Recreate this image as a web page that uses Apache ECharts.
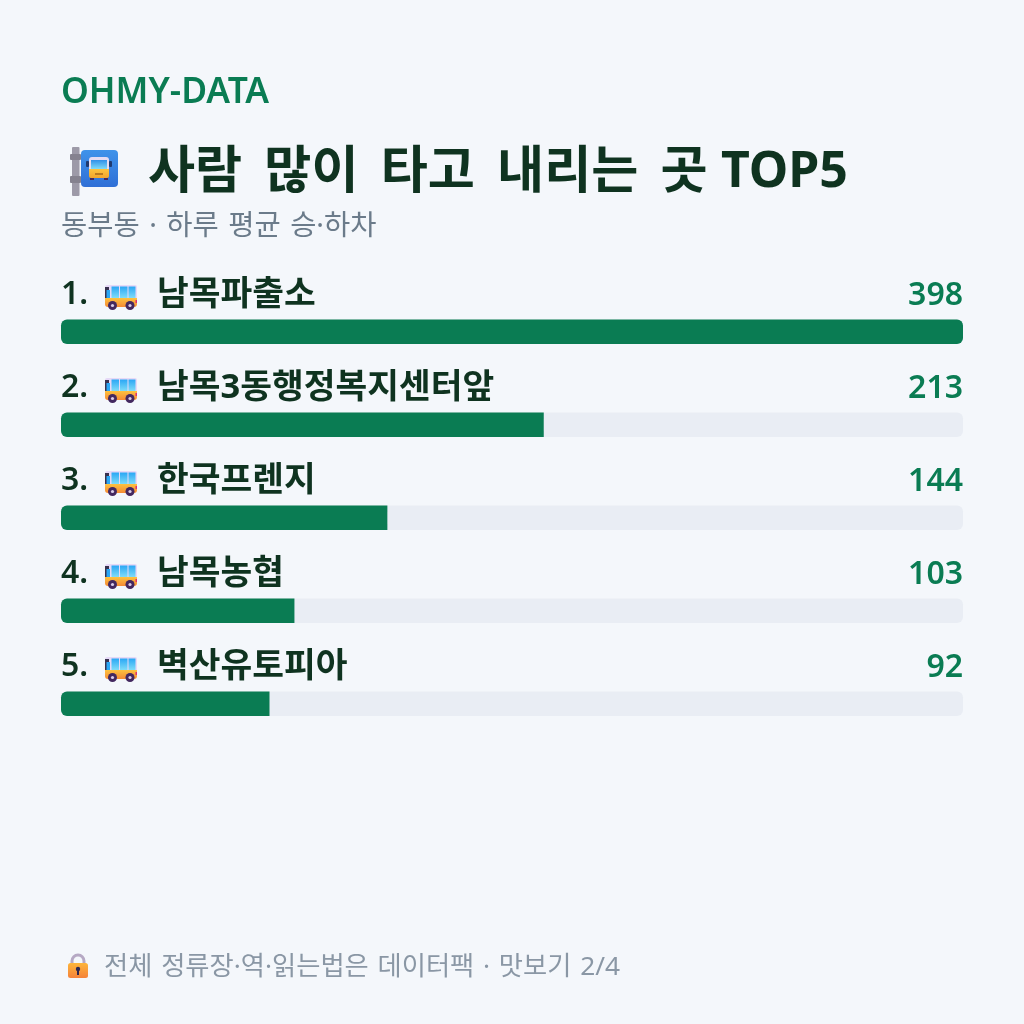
<!DOCTYPE html>
<html lang="ko">
<head>
<meta charset="utf-8">
<title>사람 많이 타고 내리는 곳 TOP5</title>
<style>html,body{margin:0;padding:0;background:#f4f7fb}#chart{width:1024px;height:1024px}</style>
<script src="https://cdn.jsdelivr.net/npm/echarts@6/dist/echarts.min.js"></script>
</head>
<body>
<div id="chart"></div>
<script>
// Boarding and alighting counts per stop
const stops = ['남목파출소', '남목3동행정복지센터앞', '한국프렌지', '남목농협', '벽산유토피아'];
const riders = [398, 213, 144, 103, 92];
const axisMax = 398;

const FONT = '"Noto Sans", "Noto Sans CJK KR", sans-serif';
const GREEN = '#0a7c53';
const INK = '#0f3320';
const ROW_PITCH = 93;

// Wider word gaps for the Korean running text
const wide = s => s.replace(/ /g, '\u2004\u200a');
const medium = s => s.replace(/ /g, '\u2004');

const grad = (a, b) => new echarts.graphic.LinearGradient(0, 0, 0, 1, [
  { offset: 0, color: a }, { offset: 1, color: b }
]);
const rect = (x, y, width, height, r, fill) => ({ type: 'rect', shape: { x, y, width, height, r }, style: { fill } });
const disc = (cx, cy, r, fill) => ({ type: 'circle', shape: { cx, cy, r }, style: { fill } });

// Side-on bus icon placed ahead of each stop name
function busIcon(dy) {
  return {
    type: 'group', x: 105, y: 285 + dy, silent: true,
    children: [
      rect(0, 0, 32, 14, [2, 2, 0, 0], '#e6d9f7'),
      rect(0, 13, 32, 9, [0, 0, 3, 3], grad('#fdc23f', '#f58a35')),
      rect(0, 2, 4, 11, 0, '#38324f'),
      rect(1.5, 5, 3.5, 8, 0, '#2aa7f5'),
      rect(6.5, 1.5, 7.5, 11.5, 0, grad('#2aa7f5', '#7fdcf8')),
      rect(15, 1.5, 7.5, 11.5, 0, grad('#2aa7f5', '#7fdcf8')),
      rect(23.5, 1.5, 7, 11.5, 0, grad('#2aa7f5', '#7fdcf8')),
      rect(30.5, 15, 1.5, 3, 0, '#e0306f'),
      disc(7.5, 20.5, 4.5, '#43285f'), disc(7.5, 20.5, 1.6, '#d9cce8'),
      disc(25, 20.5, 4.5, '#43285f'), disc(25, 20.5, 1.6, '#d9cce8')
    ]
  };
}

// Bus stop sign next to the heading
const stopSign = {
  type: 'group', x: 70, y: 147, silent: true,
  children: [
    rect(2, 0, 7.5, 49, 1, '#9d9aa8'),
    rect(0, 7, 11, 6, 1, '#85828f'),
    rect(0, 29, 11, 7, 1, '#85828f'),
    rect(11, 3, 37, 37, 4, grad('#3f93ea', '#2f6fd6')),
    rect(16, 14, 3, 6, 1, '#1f3a70'),
    rect(39, 14, 3, 6, 1, '#1f3a70'),
    rect(19, 10, 20, 13, [3, 3, 0, 0], '#e4dcf2'),
    rect(21, 13, 16, 9, 0, grad('#2f8fe8', '#7fdcf8')),
    rect(19, 22, 20, 9, [0, 0, 2, 2], grad('#fbc33f', '#f2a52d')),
    rect(25, 26, 8, 2, 0, '#b97a1f'),
    rect(20, 31, 4, 2, 0, '#43285f'),
    rect(34, 31, 4, 2, 0, '#43285f')
  ]
};

// Padlock ahead of the footer line
const padlock = {
  type: 'group', x: 68, y: 953, silent: true,
  children: [
    { type: 'arc', shape: { cx: 10, cy: 8, r: 6, startAngle: Math.PI, endAngle: 0 }, style: { stroke: '#b6a9c4', lineWidth: 3, fill: 'none' } },
    rect(2.5, 8, 3, 3, 0, '#b6a9c4'),
    rect(14.5, 8, 3, 3, 0, '#b6a9c4'),
    rect(0, 10, 20, 15, 2.5, grad('#fdb53a', '#f5823a')),
    disc(10, 16, 2.2, '#2b2550'),
    rect(9, 16, 2, 6, 0, '#2b2550')
  ]
};

const heading = (text, left, top, size, weight, color) => ({
  text, left, top, padding: 0,
  textStyle: { fontFamily: FONT, fontSize: size, fontWeight: weight, color, lineHeight: size * 1.2 }
});

// Main heading: Hangul set a little larger than the Latin tail
const mainHeading = {
  text: `{h|${wide('사람 많이 타고 내리는 곳')} }{l|TOP5}`,
  left: 148, top: 143, padding: 0,
  textStyle: {
    rich: {
      h: { fontFamily: FONT, fontSize: 51.2, fontWeight: 700, color: INK, lineHeight: 60 },
      l: { fontFamily: FONT, fontSize: 50, fontWeight: 700, color: INK, lineHeight: 60 }
    }
  }
};

const chart = echarts.init(document.getElementById('chart'));
chart.setOption({
  backgroundColor: '#f4f7fb',
  animation: false,
  title: [
    heading('OHMY-DATA', 61, 72, 35.4, 600, GREEN),
    mainHeading,
    heading(medium('동부동 · 하루 평균 승·하차'), 61, 210, 28.5, 400, '#6b7b8a'),
    heading(medium('전체 정류장·역·읽는법은 데이터팩 · 맛보기 2/4'), 104, 952, 26.3, 400, '#8a97a5')
  ],
  grid: { left: 61, top: 285.3, width: 902, height: ROW_PITCH * stops.length },
  xAxis: { type: 'value', min: 0, max: axisMax, show: false },
  yAxis: { type: 'category', data: stops, inverse: true, show: false },
  series: [
    {
      // Pale track spanning the full width, carrying the count at its right end
      name: 'track', type: 'bar', barWidth: 24.5, barGap: '-100%', silent: true,
      data: riders.map(() => axisMax),
      itemStyle: { color: '#e9edf4', borderRadius: 6 },
      label: {
        show: true, position: ['100%', -40], align: 'right',
        fontFamily: FONT, fontSize: 32, fontWeight: 600, color: GREEN,
        formatter: p => String(riders[p.dataIndex])
      }
    },
    {
      name: 'riders', type: 'bar', barWidth: 24.5, barGap: '-100%', silent: true,
      data: riders.map(v => ({
        value: v,
        itemStyle: { borderRadius: v >= axisMax ? 6 : [6, 0, 0, 6] }
      })),
      itemStyle: { color: GREEN },
      label: {
        show: true, position: [0, -41.5], align: 'left',
        formatter: p => `{num|${p.dataIndex + 1}.}{name|${stops[p.dataIndex]}}`,
        rich: {
          num: { width: 96, fontFamily: FONT, fontSize: 32, fontWeight: 600, color: INK },
          name: { fontFamily: FONT, fontSize: 34.5, fontWeight: 700, color: INK }
        }
      },
      z: 3
    }
  ],
  graphic: [stopSign, padlock, ...stops.map((_, i) => busIcon(i * ROW_PITCH))]
});
</script>
</body>
</html>
